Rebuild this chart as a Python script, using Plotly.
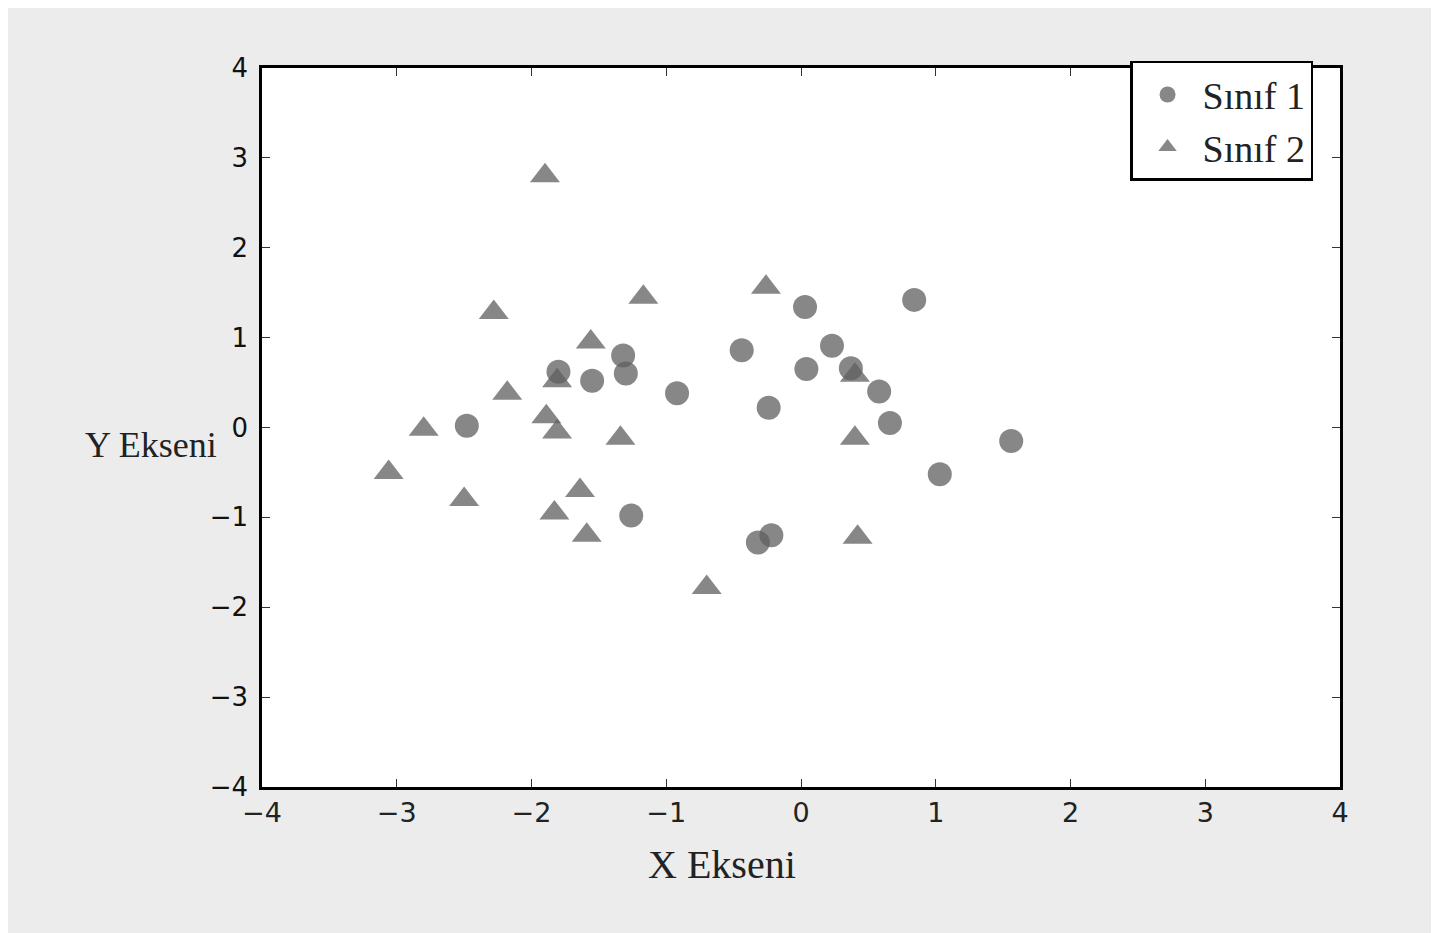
import plotly.graph_objects as go

# Sınıf 1 (circles)
sinif1_x = [-2.48, -1.80, -1.55, -1.32, -1.30, -0.92, -1.26, -0.44, 0.03, 0.23,
            0.04, 0.37, 0.58, 0.66, -0.24, 0.84, 1.03, 1.56, -0.32, -0.22]
sinif1_y = [0.02, 0.62, 0.52, 0.80, 0.60, 0.38, -0.98, 0.86, 1.34, 0.91,
            0.65, 0.66, 0.40, 0.05, 0.22, 1.42, -0.52, -0.15, -1.28, -1.20]

# Sınıf 2 (triangles)
sinif2_x = [-1.90, -2.28, -1.17, -1.56, -1.81, -2.18, -1.89, -1.81, -2.80, -1.34,
            -3.06, -2.50, -1.64, -1.83, -1.59, -0.70, -0.26, 0.40, 0.42, 0.40]
sinif2_y = [2.80, 1.28, 1.45, 0.95, 0.52, 0.38, 0.12, -0.05, -0.02, -0.12,
            -0.50, -0.80, -0.70, -0.95, -1.20, -1.78, 1.56, -0.12, -1.22, 0.58]

x_ticks = [-4, -3, -2, -1, 0, 1, 2, 3, 4]
y_ticks = [-4, -3, -2, -1, 0, 1, 2, 3, 4]
x_tick_labels = ["\u22124", "\u22123", "\u22122", "\u22121", "0", "1", "2", "3", "4"]
y_tick_labels = ["\u22124", "\u22123", "\u22122", "\u22121", "0", "1", "2", "3", "4"]

fig = go.Figure()
fig.add_trace(go.Scatter(
    x=sinif1_x, y=sinif1_y, mode="markers", name="Sınıf 1",
    marker=dict(symbol="circle", size=24, color="rgba(95,95,95,0.75)",
                line=dict(width=0)),
))
fig.add_trace(go.Scatter(
    x=sinif2_x, y=sinif2_y, mode="markers", name="Sınıf 2",
    marker=dict(symbol="triangle-up", size=26, color="rgba(95,95,95,0.75)",
                line=dict(width=0)),
))

axis_common = dict(
    showgrid=False, zeroline=False, showline=True, linecolor="black", linewidth=2.5,
    mirror="allticks", ticks="inside", ticklen=8, tickwidth=1, tickcolor="#333",
)

fig.update_xaxes(range=[-4, 4], tickvals=x_ticks, ticktext=x_tick_labels,
                 tickfont=dict(family="DejaVu Sans", size=27, color="#222"),
                 **axis_common)
fig.update_yaxes(range=[-4, 4], tickvals=y_ticks, ticktext=y_tick_labels,
                 tickfont=dict(family="DejaVu Sans", size=26, color="#111"),
                 ticklabelstandoff=6,
                 **axis_common)

fig.add_annotation(text="X Ekseni", xref="paper", yref="paper", x=0.427, y=-0.108,
                   yanchor="middle", showarrow=False,
                   font=dict(family="Liberation Serif", size=40, color="#222"))
fig.add_annotation(text="Y Ekseni", xref="paper", yref="y", x=-0.04, y=-0.2,
                   xanchor="right", yanchor="middle", showarrow=False,
                   font=dict(family="Liberation Serif", size=36, color="#222"))

fig.update_layout(
    width=1431, height=925,
    margin=dict(l=254, r=99, t=60, b=146),
    paper_bgcolor="#ececec", plot_bgcolor="white",
    showlegend=True,
    legend=dict(x=0.975, y=1.01, xanchor="right", yanchor="top",
                bgcolor="white", bordercolor="black", borderwidth=2.5,
                font=dict(family="Liberation Serif", size=38, color="#222"),
                itemsizing="trace", itemwidth=60, tracegroupgap=4),
)

fig.write_html("out.html")
